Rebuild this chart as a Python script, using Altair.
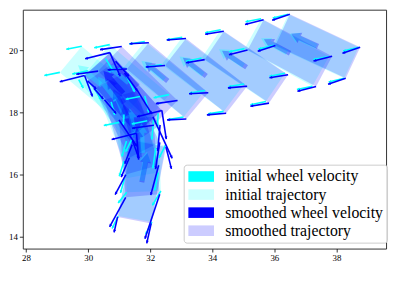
import altair as alt
import pandas as pd
import numpy as np

# robot footprint (data units)
ROBOT_LEN = 2.5
ROBOT_WID = 1.1

# smoothed trajectory poses: centre, heading (deg), body velocity, yaw rate
s_x = [37.40, 36.50, 35.10, 33.80, 32.56, 31.60, 31.13, 31.13, 31.15, 31.25, 31.40, 31.65, 31.73]
s_y = [20.12, 19.90, 19.45, 19.17, 19.01, 18.85, 18.62, 18.62, 18.30, 17.90, 17.35, 16.56, 15.76]
s_h = [155, 152, 146, 142, 140, 136, 132, 132, 125, 117, 106, 95, 79]
s_vx = [-0.57, -0.60, -0.60, -0.62, -0.62, -0.70, -0.80, 0.20, 0.10, 0.08, 0.06, 0.05, 0.03]
s_vy = [-0.19, -0.15, -0.10, -0.05, -0.03, -0.10, -0.20, -0.80, -0.55, -0.60, -0.70, -1.14, -0.60]
s_w = [0.0, 0.0, 0.0, 0.0, 0.0, 0.0, 0.0, -0.10, -0.25, -0.25, -0.30, -0.44, -0.13]

# initial trajectory poses
i_x = [37.35, 36.40, 35.00, 33.70, 32.45, 31.30, 30.40, 30.90, 31.20, 31.50, 31.75, 31.73]
i_y = [20.12, 19.92, 19.50, 19.22, 19.06, 18.95, 18.90, 18.40, 17.80, 17.20, 16.70, 15.80]
i_h = [155, 151, 146, 143, 141, 140, 140, 128, 112, 100, 92, 80]
i_vx = [-0.50, -0.50, -0.50, -0.50, -0.50, -0.50, -0.50, 0.05, 0.05, 0.00, -0.15, -0.20]
i_vy = [-0.12, -0.10, -0.10, -0.08, -0.08, -0.10, -0.10, -0.45, -0.50, -0.50, -0.40, -0.40]
i_w = [0.0, 0.0, 0.0, 0.0, 0.0, 0.0, 0.0, -0.15, -0.15, -0.10, -0.10, 0.0]

legend_labels = ["initial wheel velocity", "initial trajectory",
                 "smoothed wheel velocity", "smoothed trajectory"]
legend_colors = ["#00ffff", "#ccffff", "#0000ff", "#ccccff"]

x_ticks = [28, 30, 32, 34, 36, 38]
y_ticks = [14, 15, 16, 17, 18, 19, 20, 21]


def build(xs, ys, hs, vxs, vys, ws, traj):
    rect_rows, wheel_rows, body_rows = [], [], []
    for p, (cx, cy, hd, vx, vy, w) in enumerate(zip(xs, ys, hs, vxs, vys, ws)):
        t = np.radians(hd)
        hx, hy = np.cos(t), np.sin(t)
        px, py = -hy, hx
        a, b = ROBOT_LEN / 2, ROBOT_WID / 2
        cs = [(cx + a * hx + b * px, cy + a * hy + b * py),
              (cx + a * hx - b * px, cy + a * hy - b * py),
              (cx - a * hx - b * px, cy - a * hy - b * py),
              (cx - a * hx + b * px, cy - a * hy + b * py)]
        for k, (qx, qy) in enumerate(cs + [cs[0]]):
            rect_rows.append({"pid": f"{traj}{p}", "k": k, "x": qx, "y": qy})
        for (qx, qy) in cs:
            rx, ry = qx - cx, qy - cy
            dx, dy = vx - w * ry, vy + w * rx
            ang = (360 - np.degrees(np.arctan2(dy, dx))) % 360
            wheel_rows.append({"x": qx, "y": qy, "x2": qx + dx, "y2": qy + dy,
                               "angle": ang,
                               "series": f"{traj} wheel velocity"})
        body_rows.append({"x": cx + 0.47 * hx, "y": cy + 0.47 * hy,
                          "angle": (360 - hd) % 360, "traj": traj})
    return rect_rows, wheel_rows, body_rows


ri, wi, bi = build(i_x, i_y, i_h, i_vx, i_vy, i_w, "initial")
rs, ws_, bs = build(s_x, s_y, s_h, s_vx, s_vy, s_w, "smoothed")
rect_i = pd.DataFrame(ri)
rect_s = pd.DataFrame(rs)
wheel_i = pd.DataFrame(wi)
wheel_s = pd.DataFrame(ws_)
body_i = pd.DataFrame(bi)
body_s = pd.DataFrame(bs)

xsc = alt.Scale(domain=[27.895, 39.6], nice=False, zero=False)
ysc = alt.Scale(domain=[13.62, 21.297], nice=False, zero=False)
xax = alt.Axis(values=x_ticks, title=None, grid=False, labelFlush=False)
yax = alt.Axis(values=y_ticks, title=None, grid=False, labelFlush=False)


def rects(df, color):
    return alt.Chart(df).mark_line(fill=color, fillOpacity=0.2, strokeOpacity=0,
                                   clip=True).encode(
        x=alt.X("x:Q", scale=xsc, axis=xax),
        y=alt.Y("y:Q", scale=ysc, axis=yax),
        detail="pid:N", order="k:Q")


ARROW = "M-1,-0.17L0.35,-0.17L0.35,-0.38L1,0L0.35,0.38L0.35,0.17L-1,0.17Z"
HEAD = "M0,0L-1,-0.55L-1,0.55Z"
LEG_SYMBOL = "M-0.91,-0.67L2.34,-0.67L2.34,0.67L-0.91,0.67Z"


def bodies(df, color):
    return alt.Chart(df).mark_point(shape=ARROW, size=900, filled=True,
                                    color=color, opacity=0.3, strokeWidth=0,
                                    clip=True).encode(
        x=alt.X("x:Q", scale=xsc), y=alt.Y("y:Q", scale=ysc),
        angle=alt.Angle("angle:Q", scale=None))


def wheels(df, color):
    shaft = alt.Chart(df).mark_rule(strokeWidth=1.6, color=color, clip=True).encode(
        x=alt.X("x:Q", scale=xsc), y=alt.Y("y:Q", scale=ysc),
        x2="x2:Q", y2="y2:Q")
    head = alt.Chart(df).mark_point(shape=HEAD, size=30, filled=True, opacity=1,
                                    strokeWidth=0, clip=True).encode(
        x=alt.X("x2:Q", scale=xsc), y=alt.Y("y2:Q", scale=ysc),
        angle=alt.Angle("angle:Q", scale=None),
        fill=alt.Fill("series:N", scale=alt.Scale(domain=legend_labels,
                                                  range=legend_colors),
                      legend=alt.Legend(
                          title=None, orient="none", legendX=163, legendY=157,
                          symbolType=LEG_SYMBOL,
                          symbolSize=256, symbolStrokeWidth=0,
                          labelFont="Liberation Serif", labelFontSize=16,
                          labelColor="#000000", labelOffset=22, rowPadding=2.3,
                          padding=4, strokeColor="#cccccc",
                          fillColor="rgba(255,255,255,0.85)", cornerRadius=3,
                          labelLimit=300)))
    return shaft + head


chart = alt.layer(
    rects(rect_i, "#00ffff"),
    rects(rect_s, "#0000ff"),
    bodies(body_i, "#00ffff"),
    bodies(body_s, "#0000ff"),
    wheels(wheel_i, "#00ffff"),
    wheels(wheel_s, "#0000ff"),
).properties(
    width=368, height=242,
    autosize=alt.AutoSizeParams(type="none"),
    padding={"left": 15, "top": 0, "right": 5, "bottom": 20},
).configure_view(
    stroke="#333333", strokeWidth=1
).configure_axis(
    domain=False, tickSize=3.5, tickColor="#000000", tickWidth=0.8,
    labelFont="Liberation Serif", labelFontSize=9, labelColor="#000000",
    labelPadding=2,
).configure_axisY(labelPadding=2)

chart.save("out.html", embed_options={"renderer": "svg", "actions": False})
